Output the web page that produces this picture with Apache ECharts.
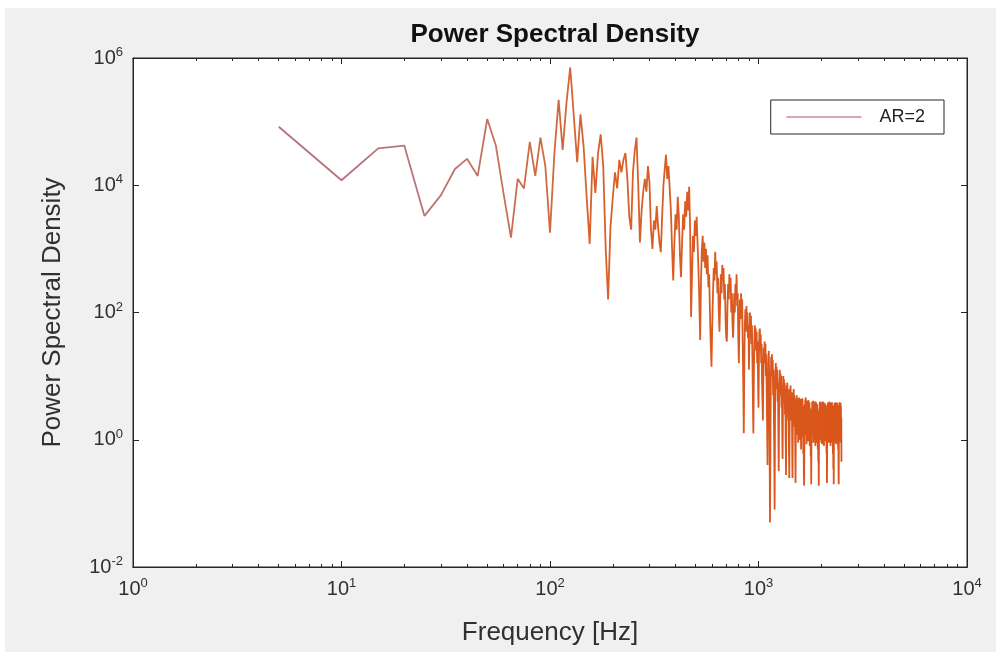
<!DOCTYPE html>
<html><head><meta charset="utf-8">
<script src="https://cdn.jsdelivr.net/npm/echarts@6/dist/echarts.min.js"></script>
<style>html,body{margin:0;padding:0;background:#fff;}#c{position:absolute;left:5px;top:8px;width:991px;height:644px;}</style>
</head><body><div id="c"></div><script>
// ---- data ----
const freqStepHz = 5; // spectrum resolution: 5, 10, 15 ... 2500 Hz
const psdValues = [
  8.3e4, 1.2e4, 3.8e4, 4.2e4, 3.3e3, 7.0e3, 1.8e4, 2.6e4, 1.4e4, 1.1e5,   // 5-50
  4.2e4, 7.1e3, 1.5e3, 1.26e4, 8.9e3, 4.8e4, 1.4e4, 5.6e4, 2.0e4, 1.8e3, // 55-100
  3.2e4, 2.2e5, 3.6e4, 2.0e5, 7.1e5, 1.26e5, 2.3e4, 1.3e5, 4.0e4, 6.3e3, // 105-150
  1.2e3, 2.8e4, 7.6e3, 3.2e4, 6.3e4, 2.0e4, 1.0e3, 1.6e2, 2.2e3, 6.3e3,  // 155-200
  1.6e4, 8.9e3, 2.5e4, 1.6e4, 2.5e4, 3.2e4, 1.26e4, 3.2e3, 2.0e3, 1.6e4, // 205-250
  3.5e4, 5.6e4, 1.0e4, 1.26e3, 4.0e3, 7.9e3, 1.26e4, 7.9e3, 2.0e4, 1.1e4,// 255-300
  2.0e3, 1.0e3, 2.8e3, 2.0e3, 4.7e3, 2.2e3, 1.26e3, 8.9e2, 3.2e3, 1.0e4, // 305-350
  1.8e4, 3.0e4, 1.26e4, 2.0e4, 8.9e3, 4.0e3, 1.0e3, 3.2e2, 1.26e3, 3.5e3,// 355-400
  2.0e3, 6.6e3, 3.2e3, 7.9e2, 3.6e2, 1.26e3, 3.5e3, 2.0e3, 5.6e3, 3.2e3, // 405-450
  7.9e3, 4.0e3, 9.5e3, 2.0e3, 85, 4.0e2, 1.6e3, 8.9e2, 2.8e3, 1.6e3,     // 455-500
  3.2e3, 1.26e3, 5.0e2, 1.6e2, 37, 3.2e2, 1.0e3, 1.6e3, 6.3e2, 1.26e3,   // 505-550
  5.0e2, 1.0e3, 4.0e2, 7.9e2, 2.5e2, 4.0e2, 1.0e2, 32, 14, 63,           // 555-600
  200, 500, 320, 900, 400, 630, 200, 350, 100, 50,                        // 605-650
  160, 400, 200, 560, 320, 500, 160, 280, 79, 40,                         // 655-700
  35, 126, 280, 160, 400, 220, 350, 100, 200, 71,                         // 705-750
  40, 79, 200, 100, 280, 160, 400, 126, 200, 40,                          // 755-800
  16, 63, 160, 79, 200, 100, 160, 32, 7.9, 1.26,                          // 805-850
  16, 63, 112, 50, 126, 71, 100, 40, 63, 12.6,                            // 855-900
  40, 100, 50, 89, 32, 63, 20, 4.0, 1.26, 10,                             // 905-950
  32, 63, 32, 56, 25, 50, 16, 35, 7.9, 3.2,                               // 955-1000
  20, 50, 56, 25, 45, 16, 32, 7.9, 4.0, 2.0,                              // 1005-1050
  10, 28, 16, 35, 20, 32, 10, 22, 5.0, 1.6,                               // 1055-1100
  0.4, 4.0, 16, 25, 10, 1.6, 0.05, 0.5, 6.3, 20,                          // 1105-1150
  10, 22, 12.6, 18, 5.0, 12.6, 2.5, 0.63, 0.08, 2.0,                      // 1155-1200
  10, 16, 7.9, 14, 6.3, 12.6, 4.0, 7.9, 1.6, 0.32,                        // 1205-1250
  2.5, 7.9, 12.6, 6.3, 11, 5.0, 10, 3.2, 7.1, 1.26,                       // 1255-1300
  0.5, 3.2, 10, 5.6, 8.9, 4.0, 7.9, 2.5, 6.3, 1.0,                        // 1305-1350
  0.28, 2.0, 7.1, 4.0, 7.9, 3.2, 6.3, 2.0, 5.0, 0.63,                     // 1355-1400
  0.25, 1.6, 6.3, 3.5, 7.1, 2.5, 5.6, 2.0, 5.0, 1.0,                      // 1405-1450
  0.25, 1.26, 5.6, 3.2, 6.3, 2.2, 5.0, 1.6, 4.5, 0.8,                     // 1455-1500
  0.21, 1.1, 3.9, 2.2, 5.0, 1.8, 4.4, 1.2, 3.9, 0.9,                      // 1505-1550
  3.5, 1.6, 4.6, 2.1, 4.2, 1.0, 3.7, 1.4, 4.4, 0.7,                       // 1555-1600
  3.2, 1.1, 4.0, 1.7, 4.5, 1.3, 3.4, 0.6, 2.2, 0.3,                       // 1605-1650
  0.19, 0.9, 3.6, 1.5, 4.3, 2.0, 4.6, 1.2, 3.9, 0.85,                     // 1655-1700
  3.3, 1.4, 4.1, 1.8, 3.7, 0.95, 4.2, 1.5, 3.6, 1.1,                      // 1705-1750
  3.9, 0.8, 3.2, 1.3, 2.4, 0.55, 1.2, 0.2, 0.9, 3.0,                      // 1755-1800
  1.7, 4.0, 1.2, 3.6, 1.9, 4.1, 0.9, 3.5, 1.4, 3.8,                       // 1805-1850
  1.0, 3.4, 1.6, 4.0, 0.8, 3.7, 1.3, 3.9, 1.1, 3.3,                       // 1855-1900
  0.9, 3.6, 1.5, 2.8, 0.7, 2.0, 0.45, 1.1, 0.19, 0.8,                     // 1905-1950
  3.1, 1.2, 3.8, 1.8, 4.0, 1.0, 3.5, 1.6, 3.9, 0.9,                       // 1955-2000
  3.6, 1.3, 3.2, 0.85, 3.8, 1.7, 4.0, 1.1, 3.4, 1.5,                      // 2005-2050
  3.9, 0.8, 3.6, 1.4, 3.1, 1.0, 3.7, 1.6, 3.3, 0.95,                      // 2055-2100
  3.5, 1.2, 2.6, 0.6, 1.5, 0.21, 0.7, 2.4, 1.4, 3.8,                      // 2105-2150
  1.1, 3.6, 1.7, 3.9, 0.9, 3.3, 1.5, 4.0, 1.0, 3.5,                       // 2155-2200
  1.3, 3.8, 0.8, 3.4, 1.6, 3.7, 1.2, 3.2, 0.9, 3.9,                       // 2205-2250
  1.4, 3.5, 1.0, 3.0, 0.6, 1.9, 0.35, 0.9, 0.2, 1.2,                      // 2255-2300
  3.4, 1.5, 3.8, 0.9, 3.6, 1.7, 3.3, 1.1, 3.9, 1.3,                       // 2305-2350
  3.5, 0.85, 3.7, 1.6, 3.2, 1.0, 3.8, 1.4, 3.4, 0.9,                      // 2355-2400
  2.8, 0.7, 1.8, 0.3, 0.2, 1.1, 3.5, 1.5, 3.9, 1.2,                       // 2405-2450
  3.6, 1.0, 3.3, 1.6, 3.8, 0.9, 3.4, 1.3, 2.2, 0.45                       // 2455-2500
];
const freqHz = psdValues.map((_, i) => (i + 1) * freqStepHz);
const seriesName = 'AR=2';
const titleText = 'Power Spectral Density';
const xName = 'Frequency [Hz]';
const yName = 'Power Spectral Density';
const xMajorTicks = [1, 10, 100, 1000, 10000];
const xMinorTicks = [2,3,4,5,6,7,8,9, 20,30,40,50,60,70,80,90, 200,300,400,500,600,700,800,900, 2000,3000,4000,5000,6000,7000,8000,9000];
const yMajorTicks = [0.01, 1, 100, 1e4, 1e6];

// ---- chart ----
const FONT = '"Liberation Sans", Arial, Helvetica, sans-serif';
const AX = '#262626';
const TXT = '#303030';
const pow10Label = v => '{b|10}{e|' + Math.round(Math.log10(v)) + '}';
const rich = {
  b: { fontSize: 20, fontFamily: FONT, color: TXT },
  e: { fontSize: 13, fontFamily: FONT, color: TXT, padding: [0, 0, 11, 0] }
};
function xAx(pos, ticks, len, withLabels, extra) {
  return Object.assign({
    type: 'log', logBase: 10, min: 1, max: 1e4, position: pos,
    axisLine: { show: true, onZero: false, lineStyle: { color: AX, width: 1 } },
    axisTick: { show: true, inside: true, length: len, customValues: ticks, lineStyle: { color: AX } },
    axisLabel: withLabels ? { show: true, customValues: ticks, formatter: pow10Label, rich: rich, margin: 10 } : { show: false },
    splitLine: { show: false }, minorTick: { show: false }, minorSplitLine: { show: false }
  }, extra || {});
}
function yAx(pos, ticks, len, withLabels, extra) {
  return Object.assign({
    type: 'log', logBase: 10, min: 0.01, max: 1e6, position: pos,
    axisLine: { show: true, onZero: false, lineStyle: { color: AX, width: 1 } },
    axisTick: { show: true, inside: true, length: len, customValues: ticks, lineStyle: { color: AX } },
    axisLabel: withLabels ? { show: true, customValues: ticks, formatter: pow10Label, rich: rich, margin: 10 } : { show: false },
    splitLine: { show: false }, minorTick: { show: false }, minorSplitLine: { show: false }
  }, extra || {});
}
const chart = echarts.init(document.getElementById('c'), null, { renderer: 'canvas' });
chart.setOption({
  animation: false,
  backgroundColor: '#f0f0f0',
  textStyle: { fontFamily: FONT },
  title: {
    text: titleText, left: 545, top: 9, textAlign: 'center',
    textStyle: { fontSize: 26, fontWeight: 'bold', color: '#111', fontFamily: FONT }
  },
  grid: { left: 128, right: 29, top: 50, bottom: 85, show: true, backgroundColor: '#fff', borderColor: AX, borderWidth: 1 },
  legend: {
    data: [{ name: seriesName, itemStyle: { opacity: 0 }, lineStyle: { color: '#cf8a93', width: 1.5 } }],
    right: 52, top: 92, orient: 'horizontal',
    backgroundColor: '#fff', borderColor: AX, borderWidth: 1, borderRadius: 0,
    padding: [8, 19, 8, 15], itemWidth: 75, itemHeight: 16,
    textStyle: { fontSize: 18, color: '#222', fontFamily: FONT, padding: [0, 0, 0, 13] }
  },
  xAxis: [
    xAx('bottom', xMajorTicks, 6, true, {
      name: xName, nameLocation: 'middle', nameGap: 53,
      nameTextStyle: { fontSize: 26, color: TXT, fontFamily: FONT }
    }),
    xAx('bottom', xMinorTicks, 3, false),
    xAx('top', xMajorTicks, 6, false),
    xAx('top', xMinorTicks, 3, false)
  ],
  yAxis: [
    yAx('left', yMajorTicks, 6, true, {
      name: yName, nameLocation: 'middle', nameGap: 67,
      nameTextStyle: { fontSize: 26, color: TXT, fontFamily: FONT }
    }),
    yAx('right', yMajorTicks, 6, false)
  ],
  series: [{
    name: seriesName, type: 'line', xAxisIndex: 0, yAxisIndex: 0,
    data: freqHz.map((f, i) => [f, psdValues[i]]),
    symbol: 'none', showSymbol: false, smooth: false,
    lineStyle: {
      width: 1.8,
      color: new echarts.graphic.LinearGradient(0, 0, 1, 0, [
        { offset: 0, color: '#b5707f' },
        { offset: 0.25, color: '#b9747c' },
        { offset: 0.4, color: '#c8705a' },
        { offset: 0.55, color: '#d8622c' },
        { offset: 1, color: '#da5418' }
      ])
    },
    emphasis: { disabled: true }
  }]
});
</script></body></html>
